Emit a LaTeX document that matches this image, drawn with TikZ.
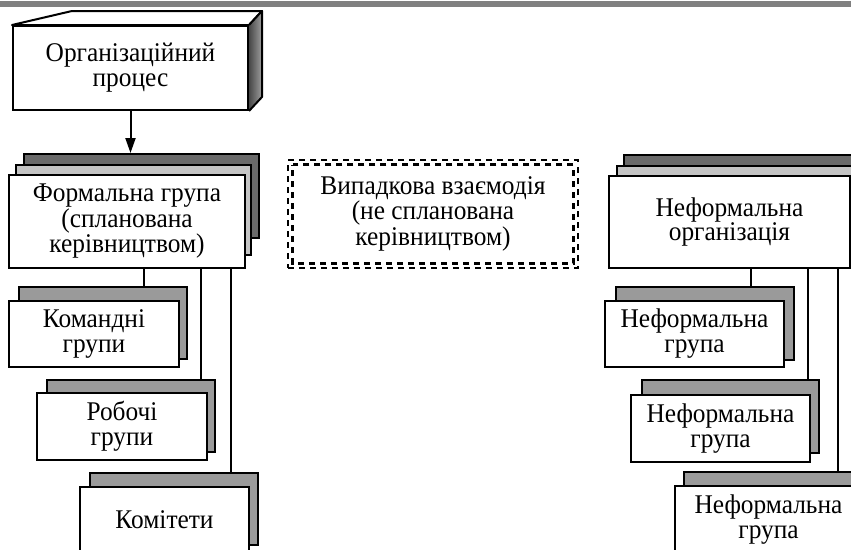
\documentclass[tikz,border=0pt]{standalone}
\usepackage{fontspec}
\setmainfont{Liberation Serif}
\newfontfamily\boxfont[FakeStretch=0.94]{Liberation Serif}
\usetikzlibrary{arrows.meta}
\definecolor{barcol}{HTML}{808080}
\definecolor{darkcard}{HTML}{6A6A6A}
\definecolor{lightcard}{HTML}{C4C4C4}
\definecolor{midcard}{HTML}{9A9A9A}
\tikzset{
  boxtext/.style={align=center, font=\boxfont\fontsize{27}{23}\selectfont},
  loosetext/.style={font=\boxfont\fontsize{27}{25}\selectfont},
  card/.style={draw=black, line width=2pt, rectangle, inner sep=0pt, boxtext},
  frontcard/.style={card, fill=white},
  darkback/.style={card, fill=darkcard},
  lightback/.style={card, fill=lightcard},
  grayback/.style={card, fill=midcard},
  link/.style={draw=black, line width=2pt},
  dotborder/.style={draw=black, line width=2.8pt, dash pattern=on 6pt off 5pt},
}
\begin{document}
\begin{tikzpicture}[x=1pt, y=-1pt]
\useasboundingbox (0,0) rectangle (851,549);
\clip (0,0) rectangle (851,549);

% header rule
\fill[barcol] (0,1) rectangle (851,7);

% extruded box: organisational process
\node[frontcard, loosetext, minimum width=235pt, minimum height=84pt] (op) at (130.5,68)
  {Організаційний\\процес};
\draw[fill=white, line width=2pt, line join=round]
  (op.north west) -- (72,11) -- (262,11) -- (op.north east) -- cycle;
\shade[left color=black!72, right color=black!38]
  (op.north east) -- (262,11) -- (262,97) -- (op.south east) -- cycle;
\draw[line width=2pt, line join=round]
  (op.north east) -- (262,11) -- (262,97) -- (op.south east);

% formal group stack
\node[darkback,  minimum width=235pt, minimum height=84pt] (fgb) at (141.5,196) {};
\node[lightback, minimum width=235pt, minimum height=90pt] (fgm) at (133.5,210) {};
\node[frontcard, minimum width=236pt, minimum height=93pt] (fg) at (127,221.5)
  {Формальна група\\(спланована\\керівництвом)};
\draw[link, -{Triangle[length=15pt, width=10pt]}] (op.south) -- (fgb.north -| op.south);

% formal subgroups
\node[grayback,  minimum width=168pt, minimum height=72pt] (kb) at (103,323) {};
\node[frontcard, loosetext, minimum width=170pt, minimum height=66pt] (kf) at (94,334)
  {Командні\\групи};
\node[grayback,  minimum width=168pt, minimum height=72pt] (rb) at (131,416) {};
\node[frontcard, loosetext, minimum width=170pt, minimum height=67pt] (rf) at (122,426.5)
  {Робочі\\групи};
\node[grayback,  minimum width=168pt, minimum height=72pt] (cb) at (174,509) {};
\node[frontcard, minimum width=169pt, minimum height=66pt] (cf) at (164.5,520)
  {Комітети};

\coordinate (fx1) at (144,0);
\coordinate (fx2) at (201,0);
\coordinate (fx3) at (231,0);
\draw[link] (fg.south -| fx1) -- (kb.north -| fx1);
\draw[link] (fg.south -| fx2) -- (rb.north -| fx2);
\draw[link] (fg.south -| fx3) -- (cb.north -| fx3);

% random interaction
\node[boxtext, minimum width=290pt, minimum height=108pt, inner sep=0pt, dotborder]
  (vi) at (433,214) {Випадкова взаємодія\\(не спланована\\керівництвом)};
\draw[dotborder, dash phase=5.5pt]
  ([shift={(6,6)}]vi.north west) rectangle ([shift={(-6,-6)}]vi.south east);

% informal organisation stack
\node[darkback,  minimum width=246pt, minimum height=85pt] (nob) at (747,197.5) {};
\node[lightback, minimum width=245pt, minimum height=89pt] (nom) at (739.5,210.5) {};
\node[frontcard, minimum width=241pt, minimum height=92pt] (no) at (729.5,222)
  {Неформальна\\організація};

% informal groups
\node[grayback,  minimum width=178pt, minimum height=73pt] (g1b) at (705,323.5) {};
\node[frontcard, loosetext, minimum width=179pt, minimum height=66pt] (g1f) at (694.5,334)
  {Неформальна\\група};
\node[grayback,  minimum width=177pt, minimum height=73pt] (g2b) at (730.5,416.5) {};
\node[frontcard, loosetext, minimum width=179pt, minimum height=67pt] (g2f) at (720.5,428.5)
  {Неформальна\\група};
\node[grayback,  minimum width=188pt, minimum height=73pt] (g3b) at (778,508.5) {};
\node[frontcard, loosetext, minimum width=187pt, minimum height=67pt] (g3f) at (768.5,519.5)
  {Неформальна\\група};

\coordinate (nx1) at (751,0);
\coordinate (nx2) at (808,0);
\coordinate (nx3) at (838,0);
\draw[link] (no.south -| nx1) -- (g1b.north -| nx1);
\draw[link] (no.south -| nx2) -- (g2b.north -| nx2);
\draw[link] (no.south -| nx3) -- (g3b.north -| nx3);
\end{tikzpicture}
\end{document}
